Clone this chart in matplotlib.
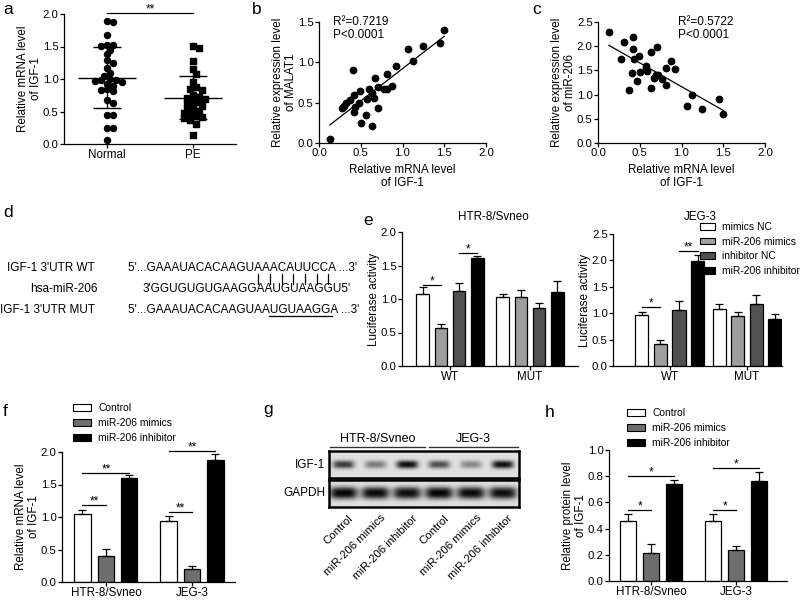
import numpy as np
import matplotlib
matplotlib.use('Agg')
import matplotlib.pyplot as plt
from matplotlib.ticker import FormatStrFormatter
from matplotlib.patches import Patch
from matplotlib.lines import Line2D

plt.rcParams['font.family'] = ['Liberation Sans', 'DejaVu Sans']
plt.rcParams['font.size'] = 8.2
plt.rcParams['axes.linewidth'] = 0.9

# a: dot plot, relative IGF-1 mRNA
normal = [1.90, 1.87, 1.68, 1.52, 1.52, 1.51, 1.45, 1.38, 1.29, 1.24, 1.17, 1.10,
          1.05, 1.00, 0.99, 0.98, 0.97, 0.96, 0.93, 0.90, 0.84, 0.83, 0.82, 0.68,
          0.63, 0.45, 0.44, 0.25, 0.24, 0.06]
pe = [1.51, 1.47, 1.27, 1.15, 1.08, 0.95, 0.88, 0.84, 0.83, 0.76, 0.73, 0.71, 0.70,
      0.68, 0.65, 0.63, 0.60, 0.58, 0.55, 0.52, 0.51, 0.48, 0.45, 0.43, 0.42, 0.40,
      0.37, 0.31, 0.14]

# b: IGF-1 vs MALAT1
b_igf1 = [0.13, 0.28, 0.30, 0.32, 0.37, 0.41, 0.42, 0.43, 0.42, 0.48, 0.49, 0.50,
          0.56, 0.58, 0.60, 0.63, 0.64, 0.66, 0.67, 0.71, 0.71, 0.78, 0.81, 0.82,
          0.88, 0.92, 1.06, 1.13, 1.25, 1.45, 1.50]
b_malat1 = [0.05, 0.44, 0.46, 0.49, 0.53, 0.90, 0.60, 0.45, 0.39, 0.50, 0.65, 0.25,
            0.35, 0.55, 0.67, 0.62, 0.21, 0.56, 0.80, 0.44, 0.69, 0.67, 0.67, 0.85,
            0.71, 0.95, 1.17, 1.02, 1.20, 1.24, 1.40]

# c: IGF-1 vs miR-206
c_igf1 = [0.13, 0.27, 0.31, 0.37, 0.41, 0.42, 0.42, 0.43, 0.47, 0.49, 0.50, 0.57,
          0.58, 0.59, 0.63, 0.64, 0.67, 0.69, 0.71, 0.72, 0.77, 0.82, 0.82, 0.88,
          0.92, 1.06, 1.13, 1.25, 1.45, 1.50]
c_mir206 = [2.29, 1.74, 2.09, 1.10, 1.45, 2.20, 1.95, 1.74, 1.29, 1.79, 1.47, 1.60,
            1.54, 1.49, 1.14, 1.89, 1.35, 1.40, 1.98, 1.40, 1.33, 1.19, 1.55, 1.69,
            1.52, 0.76, 1.00, 0.71, 0.90, 0.59]

# e: luciferase activity
e_groups = ['WT', 'MUT']
e_series = ['mimics NC', 'miR-206 mimics', 'inhibitor NC', 'miR-206 inhibitor']
e_htr = [[1.075, 0.57, 1.12, 1.61], [1.035, 1.03, 0.87, 1.11]]
e_htr_err = [[0.10, 0.055, 0.125, 0.035], [0.045, 0.105, 0.075, 0.165]]
e_jeg = [[0.97, 0.41, 1.07, 1.98], [1.08, 0.95, 1.17, 0.89]]
e_jeg_err = [[0.06, 0.08, 0.17, 0.13], [0.09, 0.065, 0.175, 0.09]]
e_htr_sig = [(0, 0, 1, 1.21, '*'), (0, 2, 3, 1.685, '*')]
e_jeg_sig = [(0, 0, 1, 1.11, '*'), (0, 2, 3, 2.17, '**')]

# f / h: IGF-1 mRNA and protein
fh_groups = ['HTR-8/Svneo', 'JEG-3']
fh_series = ['Control', 'miR-206 mimics', 'miR-206 inhibitor']
f_mrna = [[1.045, 0.40, 1.60], [0.94, 0.20, 1.87]]
f_err = [[0.065, 0.105, 0.04], [0.08, 0.04, 0.105]]
f_sig = [(0, 0, 1, 1.18, '**'), (0, 0, 2, 1.68, '**'),
         (1, 0, 1, 1.08, '**'), (1, 0, 2, 2.02, '**')]
h_protein = [[0.46, 0.21, 0.74], [0.46, 0.24, 0.76]]
h_err = [[0.05, 0.075, 0.03], [0.05, 0.03, 0.075]]
h_sig = [(0, 0, 1, 0.54, '*'), (0, 0, 2, 0.80, '*'),
         (1, 0, 1, 0.54, '*'), (1, 0, 2, 0.86, '*')]

# g: western blot band strength per lane
g_lanes = ['Control', 'miR-206 mimics', 'miR-206 inhibitor'] * 2
g_igf1 = [0.75, 0.45, 0.95, 0.65, 0.40, 0.95]
g_gapdh = [1.0, 0.98, 0.96, 1.0, 0.98, 0.96]

W, H = 800, 604
fig = plt.figure(figsize=(8, 6.04), dpi=100)
YPAD = 0.5


def box(l, t, r, b):
    return [l / W, 1 - b / H, (r - l) / W, (b - t) / H]


def prism(ax):
    for s in ['top', 'right']:
        ax.spines[s].set_visible(False)
    ax.tick_params(direction='out', length=2.8, width=0.9, labelsize=8.2, pad=1)
    ax.yaxis.set_major_formatter(FormatStrFormatter('%.1f'))


def swarm(vals, center, dx, dy):
    xs = np.zeros(len(vals))
    placed = []
    for i in np.argsort(vals)[::-1]:
        y = vals[i]
        k = 0
        while True:
            off = ((k + 1) // 2) * dx * 0.55 * (1 if k % 2 else -1)
            ok = all(((off - px) / dx) ** 2 + ((y - py) / dy) ** 2 >= 1 for px, py in placed)
            if ok:
                break
            k += 1
        placed.append((off, y))
        xs[i] = center + off
    return xs


def grouped(ax, vals, errs, colors, step, width, sigs):
    vals = np.array(vals)
    errs = np.array(errs)
    n = vals.shape[1]
    offs = (np.arange(n) - (n - 1) / 2) * step
    g = np.arange(vals.shape[0])
    for k in range(n):
        ax.bar(g + offs[k], vals[:, k], width, color=colors[k], edgecolor='black',
               linewidth=0.9, zorder=2)
        ax.errorbar(g + offs[k], vals[:, k], yerr=[np.zeros(len(g)), errs[:, k]],
                    fmt='none', ecolor='black', elinewidth=0.9, capsize=3,
                    capthick=0.9, zorder=3)
    for gi, i, j, y, s in sigs:
        x0, x1 = gi + offs[i], gi + offs[j]
        ax.plot([x0, x1], [y, y], color='black', lw=0.9, clip_on=False)
        ax.text((x0 + x1) / 2, y + 0.005 * ax.get_ylim()[1], s, ha='center',
                va='baseline', fontsize=8.5, clip_on=False)


# ---- a ----
ax = fig.add_axes(box(64, 14, 236, 144))
prism(ax)
ax.set_xlim(-0.5, 1.5)
ax.set_ylim(0, 2)
for ci, (vals, mk, sz) in enumerate([(normal, 'o', 19), (pe, 's', 15)]):
    vals = np.array(vals)
    xs = swarm(vals, ci, 0.064, 0.078)
    ax.scatter(xs, vals, s=sz, marker=mk, color='black', zorder=3, clip_on=False)
    m, sd = vals.mean(), vals.std(ddof=1)
    ax.hlines(m, ci - 0.34, ci + 0.34, color='black', lw=1, zorder=4)
    ax.hlines([m - sd, m + sd], ci - 0.16, ci + 0.16, color='black', lw=1, zorder=4)
    ax.vlines(ci, m - sd, m + sd, color='black', lw=1, zorder=4)
ax.plot([0, 1], [2.02, 2.02], color='black', lw=0.9, clip_on=False)
ax.text(0.5, 2.025, '**', ha='center', va='baseline', fontsize=8.5)
ax.set_xticks([0, 1])
ax.set_xticklabels(['Normal', 'PE'], fontsize=8.4)
ax.set_yticks(np.arange(0, 2.01, 0.5))
ax.set_ylabel('Relative mRNA level\nof IGF-1', fontsize=8.4, linespacing=1.1, labelpad=YPAD)

# ---- b, c ----
for l, r, xv, yv, ymax, lab, stat in [
        (319, 486, b_igf1, b_malat1, 1.5, 'MALAT1', 'R²=0.7219\nP<0.0001'),
        (598, 765, c_igf1, c_mir206, 2.5, 'miR-206', 'R²=0.5722\nP<0.0001')]:
    ax = fig.add_axes(box(l, 22, r, 143))
    prism(ax)
    ax.set_xlim(0, 2)
    ax.set_ylim(0, ymax)
    ax.scatter(xv, yv, s=21, color='black', zorder=3, clip_on=False)
    k, c0 = np.polyfit(xv, yv, 1)
    xl = np.array([min(xv), max(xv)])
    ax.plot(xl, k * xl + c0, color='black', lw=0.9)
    ax.set_xticks(np.arange(0, 2.01, 0.5))
    ax.set_yticks(np.arange(0, ymax + 0.01, 0.5))
    ax.set_ylabel('Relative expression level\nof ' + lab, fontsize=8.4, linespacing=1.1,
                  labelpad=YPAD)
    ax.set_xlabel('Relative mRNA level\nof IGF-1', fontsize=8.4, linespacing=1.1,
                  labelpad=4)
    sx = 0.17 if lab == 'MALAT1' else 0.96
    ax.text(sx, ymax * 1.05, stat, ha='left', va='top', fontsize=8.5, linespacing=1.15)

# ---- d ----
fs = 8.5
fig.text(7 / W, 1 - 271 / H, "IGF-1 3'UTR WT", fontsize=fs)
fig.text(30 / W, 1 - 292 / H, 'hsa-miR-206', fontsize=fs)
fig.text(0 / W, 1 - 313 / H, "IGF-1 3'UTR MUT", fontsize=fs)
fig.text(128 / W, 1 - 271 / H, "5'...GAAAUACACAAGUAAACAUUCCA ...3'", fontsize=fs)
fig.text(143 / W, 1 - 292 / H, "3'GGUGUGUGAAGGAAUGUAAGGU5'", fontsize=fs)
fig.text(128 / W, 1 - 313 / H, "5'...GAAAUACACAAGUAAUGUAAGGA ...3'", fontsize=fs)
for px in [258, 270, 282, 293, 305, 317, 328]:
    fig.add_artist(Line2D([px / W, px / W], [1 - 274 / H, 1 - 284 / H], color='black', lw=0.9))
fig.add_artist(Line2D([269 / W, 332 / W], [1 - 316 / H] * 2, color='black', lw=0.9))

# ---- e ----
e_colors = ['white', '#9e9e9e', '#515151', 'black']
for (l, t, r), vals, errs, sigs, xl, step, wd, ymax, title, tx in [
        ((402, 232, 578), e_htr, e_htr_err, e_htr_sig, (-0.6, 1.6), 0.228, 0.155, 2.0, 'HTR-8/Svneo', 493),
        ((613, 234, 782), e_jeg, e_jeg_err, e_jeg_sig, (-0.73, 1.45), 0.24, 0.172, 2.5, 'JEG-3', 700)]:
    ax = fig.add_axes(box(l, t, r, 366))
    prism(ax)
    ax.set_xlim(*xl)
    ax.set_ylim(0, ymax)
    grouped(ax, vals, errs, e_colors, step, wd, sigs)
    ax.set_xticks([0, 1])
    ax.set_xticklabels(e_groups, fontsize=8.4)
    ax.set_yticks(np.arange(0, ymax + 0.01, 0.5))
    ax.set_ylabel('Luciferase activity', fontsize=8.4, labelpad=YPAD)
    fig.text(tx / W, 1 - 220 / H, title, ha='center', fontsize=8.4)
fig.legend(handles=[Patch(facecolor=c, edgecolor='black', lw=0.8, label=s)
                    for c, s in zip(e_colors, e_series)],
           loc='upper left', bbox_to_anchor=(700 / W, 1 - 222 / H), frameon=False,
           fontsize=7.4, handlelength=1.5, handleheight=0.6, handletextpad=0.6,
           labelspacing=0.45, borderpad=0, borderaxespad=0)

# ---- f, h ----
fh_colors = ['white', '#6e6e6e', 'black']
for (l, t, r, b), vals, errs, sigs, xl, ymax, ystep, lab, leg in [
        ((62, 452, 235, 582), f_mrna, f_err, f_sig, (-0.51, 1.5), 2.0, 0.5,
         'Relative mRNA level\nof IGF-1', (73, 403)),
        ((609, 450, 787, 581), h_protein, h_err, h_sig, (-0.5, 1.6), 1.0, 0.2,
         'Relative protein level\nof IGF-1', (627, 408))]:
    ax = fig.add_axes(box(l, t, r, b))
    prism(ax)
    ax.set_xlim(*xl)
    ax.set_ylim(0, ymax)
    grouped(ax, vals, errs, fh_colors, 0.272, 0.19, sigs)
    ax.set_xticks([0, 1])
    ax.set_xticklabels(fh_groups, fontsize=8.4)
    ax.set_yticks(np.arange(0, ymax + 0.001, ystep))
    ax.set_ylabel(lab, fontsize=8.4, linespacing=1.1, labelpad=YPAD)
    fig.legend(handles=[Patch(facecolor=c, edgecolor='black', lw=0.8, label=s)
                        for c, s in zip(fh_colors, fh_series)],
               loc='upper left', bbox_to_anchor=(leg[0] / W, 1 - leg[1] / H),
               frameon=False, fontsize=7.4, handlelength=1.75, handleheight=0.65,
               handletextpad=0.7, labelspacing=0.5, borderpad=0, borderaxespad=0)

# ---- g ----
xg = np.linspace(-0.45, 5.5, 380)
yg = np.linspace(0, 1, 60)
X, Y = np.meshgrid(xg, yg)
for (l, t, r, b), inten, hw, sy, name in [((329, 451, 519, 478), g_igf1, 0.34, 0.15, 'IGF-1'),
                                         ((329, 480, 519, 507), g_gapdh, 0.44, 0.22, 'GAPDH')]:
    axb = fig.add_axes(box(l, t, r, b))
    img = np.full(X.shape, 0.88)
    for i, v in enumerate(inten):
        img -= 0.86 * v * np.exp(-np.abs((X - i) / hw) ** 4) * np.exp(-np.abs((Y - 0.5) / sy) ** 2.5)
    axb.imshow(np.clip(img, 0, 1), cmap='gray', vmin=0, vmax=1, extent=(-0.45, 5.5, 0, 1),
               aspect='auto', interpolation='bilinear')
    axb.set_xlim(-0.45, 5.5)
    axb.set_xticks([])
    axb.set_yticks([])
    for s in axb.spines.values():
        s.set_linewidth(1.8)
    fig.text(325 / W, 1 - (t + b) / 2 / H, name, ha='right', va='center', fontsize=8.5)
for i, lab in enumerate(g_lanes):
    axb.text(i + 0.15, -0.22, lab, transform=axb.get_xaxis_transform(), rotation=45,
             ha='right', va='top', rotation_mode='anchor', fontsize=8.2)
for x0, x1, lab in [(330, 425, 'HTR-8/Svneo'), (429, 518, 'JEG-3')]:
    fig.add_artist(Line2D([x0 / W, x1 / W], [1 - 447 / H] * 2, color='#333333', lw=1))
    fig.text((x0 + x1) / 2 / W, 1 - 442 / H, lab, ha='center', va='baseline', fontsize=9)

# ---- panel letters ----
for lt, x, y in [('a', 3, 14), ('b', 252, 14), ('c', 532, 14), ('d', 3, 217),
                 ('e', 363, 225), ('f', 3, 416), ('g', 263, 414), ('h', 545, 417)]:
    fig.text(x / W, 1 - y / H, lt, fontsize=12.5, va='baseline')

fig.savefig('out.png', dpi=100)
